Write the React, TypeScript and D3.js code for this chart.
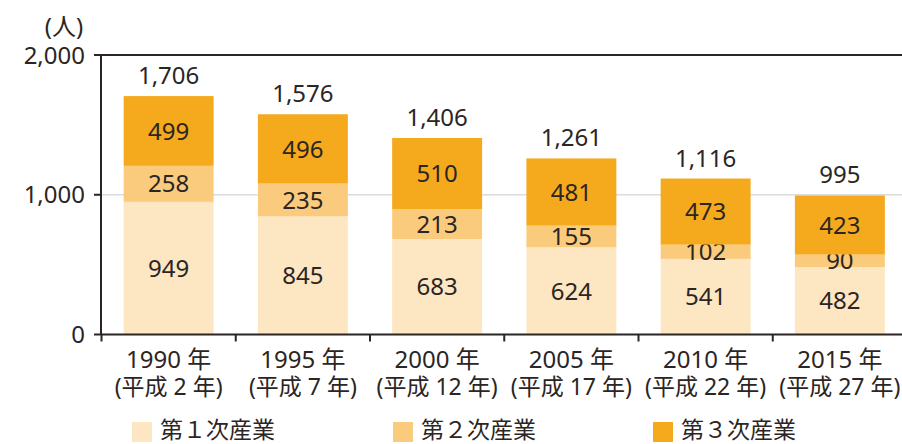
import React from 'react';
import * as d3 from 'd3';

const years = ['1990 年', '1995 年', '2000 年', '2005 年', '2010 年', '2015 年'];
const eras = ['(平成 2 年)', '(平成 7 年)', '(平成 12 年)', '(平成 17 年)', '(平成 22 年)', '(平成 27 年)'];
const primary = [949, 845, 683, 624, 541, 482];
const secondary = [258, 235, 213, 155, 102, 90];
const tertiary = [499, 496, 510, 481, 473, 423];
const totals = [1706, 1576, 1406, 1261, 1116, 995];
const seriesNames = ['第１次産業', '第２次産業', '第３次産業'];
const yTicks = [0, 1000, 2000];

const colors = ['#FDE6C2', '#FBCB7D', '#F5A91D'];
const ink = '#2b2523';
const font = '"Noto Sans", "Noto Sans CJK JP", sans-serif';

export default function App() {
  const ref = React.useRef<SVGSVGElement>(null);

  React.useEffect(() => {
    const W = 902;
    const svg = d3.select(ref.current);
    svg.selectAll('*').remove();

    const x = d3.scaleBand<string>()
      .domain(years)
      .range([101.5, 907])
      .paddingInner(0.33)
      .paddingOuter(0.165);
    const y = d3.scaleLinear().domain([0, 2000]).range([334.5, 55]);
    const axisX = 101;
    const fs = 24;

    // gridline at 1,000
    svg.append('line')
      .attr('x1', axisX).attr('x2', W)
      .attr('y1', y(1000)).attr('y2', y(1000))
      .attr('stroke', '#dcdcdc').attr('stroke-width', 1.5);

    // stacked bars
    const rows = years.map((yr, i) => ({ yr, v: [primary[i], secondary[i], tertiary[i]] }));
    rows.forEach((r, i) => {
      let base = 0;
      r.v.forEach((val, k) => {
        const y0 = y(base);
        const y1 = y(base + val);
        svg.append('rect')
          .attr('x', x(r.yr)!)
          .attr('y', y1)
          .attr('width', x.bandwidth())
          .attr('height', y0 - y1)
          .attr('fill', colors[k]);
        svg.append('text')
          .attr('x', x(r.yr)! + x.bandwidth() / 2)
          .attr('y', (y0 + y1) / 2)
          .attr('dy', '0.36em')
          .attr('text-anchor', 'middle')
          .attr('font-size', fs)
          .attr('fill', ink)
          .text(d3.format(',')(val));
        base += val;
      });
      svg.append('text')
        .attr('x', x(r.yr)! + x.bandwidth() / 2)
        .attr('y', y(base) - 12)
        .attr('text-anchor', 'middle')
        .attr('font-size', fs)
        .attr('fill', ink)
        .text(d3.format(',')(totals[i]));
    });

    // y axis
    svg.append('line')
      .attr('x1', axisX).attr('x2', axisX)
      .attr('y1', y(2000)).attr('y2', y(0))
      .attr('stroke', ink).attr('stroke-width', 2);
    yTicks.forEach(t => {
      svg.append('line')
        .attr('x1', axisX - 7).attr('x2', axisX)
        .attr('y1', y(t)).attr('y2', y(t))
        .attr('stroke', ink).attr('stroke-width', 2);
      svg.append('text')
        .attr('x', axisX - 16)
        .attr('y', y(t))
        .attr('dy', '0.36em')
        .attr('text-anchor', 'end')
        .attr('font-size', fs)
        .attr('fill', ink)
        .text(d3.format(',')(t));
    });
    // top line at 2,000
    svg.append('line')
      .attr('x1', axisX).attr('x2', W)
      .attr('y1', y(2000)).attr('y2', y(2000))
      .attr('stroke', ink).attr('stroke-width', 2);

    // x axis
    svg.append('line')
      .attr('x1', axisX).attr('x2', W)
      .attr('y1', y(0)).attr('y2', y(0))
      .attr('stroke', ink).attr('stroke-width', 2);
    const step = x.step();
    d3.range(years.length + 1).forEach(i => {
      const bx = 101.5 + i * step;
      svg.append('line')
        .attr('x1', bx).attr('x2', bx)
        .attr('y1', y(0)).attr('y2', y(0) + 7)
        .attr('stroke', ink).attr('stroke-width', 2);
    });
    years.forEach((yr, i) => {
      const cx = x(yr)! + x.bandwidth() / 2;
      svg.append('text')
        .attr('x', cx).attr('y', 359).attr('dy', '0.36em')
        .attr('text-anchor', 'middle')
        .attr('font-size', fs).attr('fill', ink)
        .text(yr);
      svg.append('text')
        .attr('x', cx).attr('y', 387).attr('dy', '0.36em')
        .attr('text-anchor', 'middle')
        .attr('font-size', 23).attr('fill', ink)
        .text(eras[i]);
    });

    // unit
    svg.append('text')
      .attr('x', 64).attr('y', 26).attr('dy', '0.36em')
      .attr('text-anchor', 'middle')
      .attr('font-size', fs).attr('fill', ink)
      .text('(人)');

    // legend
    const legendX = [132, 393, 653];
    seriesNames.forEach((name, k) => {
      svg.append('rect')
        .attr('x', legendX[k]).attr('y', 422)
        .attr('width', 20).attr('height', 20)
        .attr('fill', colors[k]);
      svg.append('text')
        .attr('x', legendX[k] + 28).attr('y', 430).attr('dy', '0.36em')
        .attr('font-size', 23).attr('fill', ink)
        .text(name);
    });
  }, []);

  return (
    <svg
      ref={ref}
      width={902}
      height={444}
      style={{ position: 'absolute', left: 0, top: 0, fontFamily: font, background: '#fff' }}
    />
  );
}
